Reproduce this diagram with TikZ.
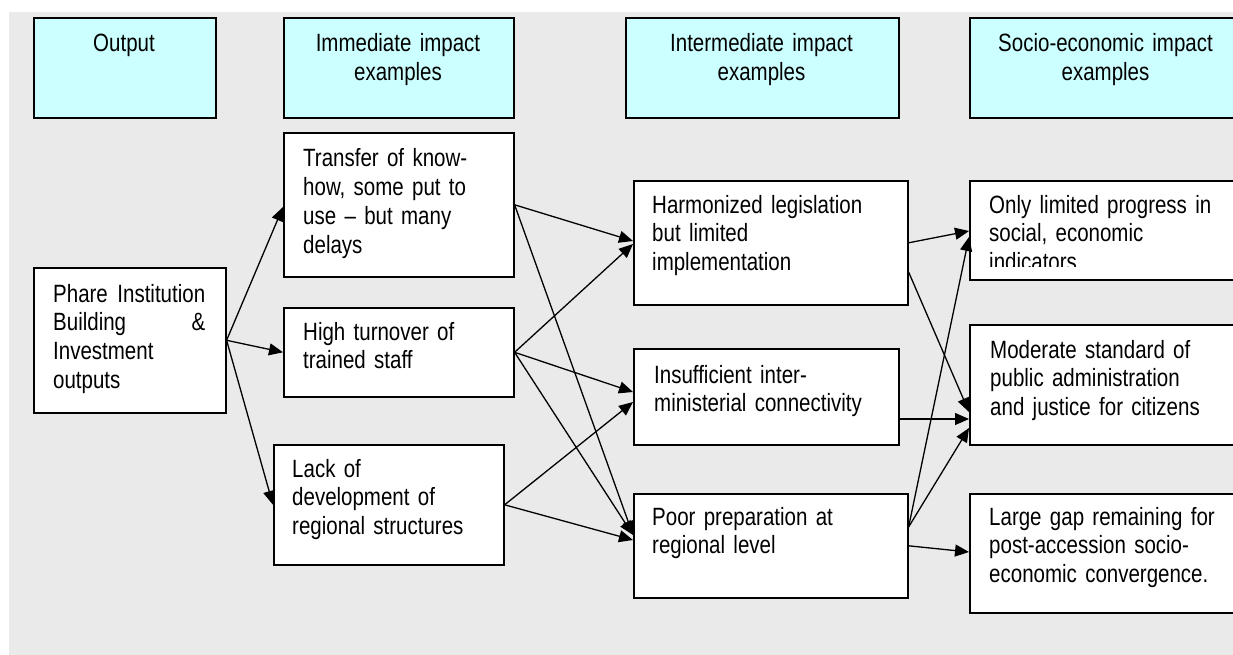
\documentclass[tikz,border=0pt]{standalone}
\usepackage{fontspec}
\setmainfont{Liberation Sans}[FakeStretch=0.82]
\usetikzlibrary{arrows.meta,calc}
\definecolor{bggray}{HTML}{EAEAEA}
\definecolor{hdrcyan}{HTML}{CCFFFF}
\begin{document}
\begin{tikzpicture}[x=1pt,y=-1pt,
  box/.style={draw=black, line width=1.6pt, fill=white, inner sep=0pt, anchor=north west},
  hdr/.style={box, fill=hdrcyan, minimum height=100pt},
  txt/.style={inner sep=0pt, anchor=base west, align=left, text width=#1pt, font=\fontsize{25}{28.7}\selectfont},
  txt/.default=250,
  htxt/.style={inner sep=0pt, anchor=base, align=center, text width=260pt, font=\fontsize{25}{28.3}\selectfont},
  arr/.style={line width=1.3pt, -{Triangle[length=14pt,width=12pt]}}]
\clip (0,0) rectangle (1233,655);
\fill[bggray] (9,12) rectangle (1233,655);
% header boxes
\node[hdr, minimum width=182pt] (h1) at (33,17) {};
\node[hdr, minimum width=230pt] (h2) at (283,17) {};
\node[hdr, minimum width=273pt] (h3) at (625,17) {};
\node[hdr, minimum width=273pt] (h4) at (969,17) {};
\node[htxt] (h1t) at (124,52) {Output};
\node[htxt] (h2t) at (398,52) {Immediate impact\\examples};
\node[htxt] (h3t) at (761.5,52) {Intermediate impact\\examples};
\node[htxt] (h4t) at (1105.5,52) {Socio-economic impact\\examples};
% body boxes
\node[box, minimum width=192pt, minimum height=145pt] (phare) at (33,267) {};
\node[box, minimum width=230pt, minimum height=144pt] (transfer) at (283,132) {};
\node[box, minimum width=230pt, minimum height=89pt] (turnover) at (283,307) {};
\node[box, minimum width=230pt, minimum height=120pt] (lack) at (273,444) {};
\node[box, minimum width=274pt, minimum height=124pt] (harm) at (633,180) {};
\node[box, minimum width=265pt, minimum height=96pt] (insuf) at (633,348) {};
\node[box, minimum width=274pt, minimum height=104pt] (poor) at (633,493) {};
\node[box, minimum width=276pt, minimum height=99pt] (only) at (969,180) {};
\node[box, minimum width=276pt, minimum height=120pt] (moder) at (969,324) {};
\node[box, minimum width=276pt, minimum height=119pt] (large) at (969,493) {};
% texts
\node[txt=152] (tphare) at (53,302) {Phare\hfill Institution\\Building\hfill\&\\Investment\\outputs};
\node[txt] (ttransfer) at (303,167) {Transfer of know-\\how, some put to\\use – but many\\delays};
\node[txt] (tturnover) at (303,340) {High turnover of\\trained staff};
\node[txt] (tlack) at (292,477) {Lack of\\development of\\regional structures};
\node[txt] (tharm) at (652,213) {Harmonized legislation\\but limited\\implementation};
\node[txt] (tinsuf) at (654,383) {Insufficient inter-\\ministerial connectivity};
\node[txt] (tpoor) at (652,525) {Poor preparation at\\regional level};
\begin{scope}
\clip (970,181) rectangle (1233,266);
\node[txt] (tonly) at (989,213) {Only limited progress in\\social, economic\\indicators};
\end{scope}
\node[txt] (tmoder) at (990,358) {Moderate standard of\\public administration\\and justice for citizens};
\node[txt] (tlarge) at (989,525) {Large gap remaining for\\post-accession socio-\\economic convergence.};
% connectors
\draw[arr] (phare.east) -- (transfer.west |- 0,207);
\draw[arr] (phare.east) -- (turnover.west);
\draw[arr] (phare.east) -- (lack.west);
\draw[arr] (transfer.east) -- (harm.west |- 0,241);
\draw[arr] (transfer.east) -- (poor.west |- 0,535);
\draw[arr] (turnover.east) -- (harm.west |- 0,244);
\draw[arr] (turnover.east) -- (insuf.west |- 0,392);
\draw[arr] (turnover.east) -- (poor.west |- 0,535);
\draw[arr] (lack.east) -- (insuf.west |- 0,402);
\draw[arr] (lack.east) -- (poor.west |- 0,540);
\draw[arr] (harm.east) -- (only.west |- 0,231);
\draw[arr] (harm.east |- 0,272) -- (moder.west |- 0,412);
\draw[arr] (insuf.east |- 0,419) -- (moder.west |- 0,419);
\draw[arr] (poor.east |- 0,527) -- (only.west |- 0,237);
\draw[arr] (poor.east |- 0,527) -- (moder.west |- 0,428);
\draw[arr] (poor.east) -- (large.west |- 0,552);
\end{tikzpicture}
\end{document}
